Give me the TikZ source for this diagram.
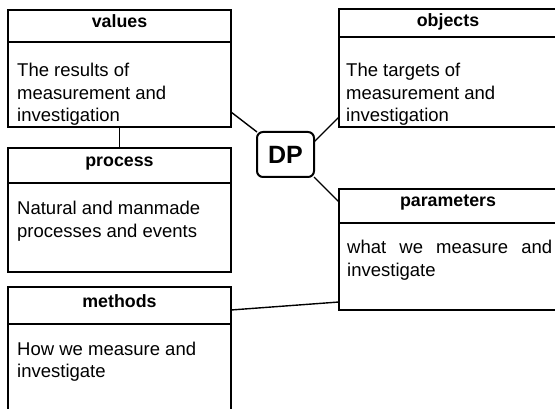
\documentclass[tikz,border=0pt]{standalone}
\usepackage{fontspec}
\setmainfont{Liberation Sans}
\usetikzlibrary{calc}
\begin{document}
\begin{tikzpicture}[x=1pt,y=-1pt,
  box/.style={draw, line width=2.8pt, inner sep=0pt, outer sep=0pt, anchor=north west},
  rule/.style={line width=2.8pt},
  head/.style={font=\bfseries\fontsize{17.8}{20}\selectfont, anchor=base, inner sep=0pt},
  body/.style={font=\fontsize{18.5}{22}\selectfont, anchor=base west, inner sep=0pt},
  link/.style={line width=1.4pt},
  hub/.style={draw, line width=2pt, rounded corners=6pt, minimum width=57pt,
    minimum height=45pt, inner sep=0pt, outer sep=0pt,
    font=\bfseries\fontsize{25}{30}\selectfont}]
\useasboundingbox (0,0) rectangle (555,409);
\clip (0,0) rectangle (555,409);

% class boxes
\node[box, minimum width=223pt, minimum height=117pt] (values) at (8,10) {};
\node[box, minimum width=223pt, minimum height=124pt] (process) at (8,148) {};
\node[box, minimum width=223pt, minimum height=153pt] (methods) at (8,287) {};
\node[box, minimum width=218pt, minimum height=118pt] (objects) at (339,9) {};
\node[box, minimum width=218pt, minimum height=121pt] (parameters) at (339,189) {};

% header separators
\draw[rule] ($(values.north west)+(0,32)$) -- ($(values.north east)+(0,32)$);
\draw[rule] ($(process.north west)+(0,35)$) -- ($(process.north east)+(0,35)$);
\draw[rule] ($(methods.north west)+(0,37)$) -- ($(methods.north east)+(0,37)$);
\draw[rule] ($(objects.north west)+(0,28)$) -- ($(objects.north east)+(0,28)$);
\draw[rule] ($(parameters.north west)+(0,34)$) -- ($(parameters.north east)+(0,34)$);

% headers
\node[head] (valuesH) at ($(values.north)+(0,18)$) {values};
\node[head] (processH) at ($(process.north)+(0,19)$) {process};
\node[head] (methodsH) at ($(methods.north)+(0,20)$) {methods};
\node[head] (objectsH) at ($(objects.north)+(0,18)$) {objects};
\node[head] (parametersH) at ($(parameters.north)+(0,18)$) {parameters};

% descriptions
\node[body] (values1) at (17,77) {The results of};
\node[body] (values2) at (17,99.5) {measurement and};
\node[body] (values3) at (17,122) {investigation};
\node[body] (process1) at (17,215) {Natural and manmade};
\node[body] (process2) at (17,237.5) {processes and events};
\node[body] (methods1) at (17,355) {How we measure and};
\node[body] (methods2) at (17,377.5) {investigate};
\node[body] (objects1) at (346,77) {The targets of};
\node[body] (objects2) at (346,99.5) {measurement and};
\node[body] (objects3) at (346,122) {investigation};
\node[body] (parameters1) at (347,254) {\makebox[205pt][s]{what we measure and}};
\node[body] (parameters2) at (347,276.5) {investigate};

% hub
\node[hub] (DP) at (285.5,154.5) {DP};

% connectors
\draw[link] (values.south) -- (process.north);
\draw[link] ($(values.south east)+(0,-15)$) -- (DP.north west);
\draw[link] ($(DP.north east)+(0,10)$) -- ($(objects.south west)+(0,-10)$);
\draw[link] (DP.south east) -- ($(parameters.north west)+(0,13)$);
\draw[link] ($(methods.north east)+(0,23)$) -- ($(parameters.south west)+(0,-8)$);
\end{tikzpicture}
\end{document}
